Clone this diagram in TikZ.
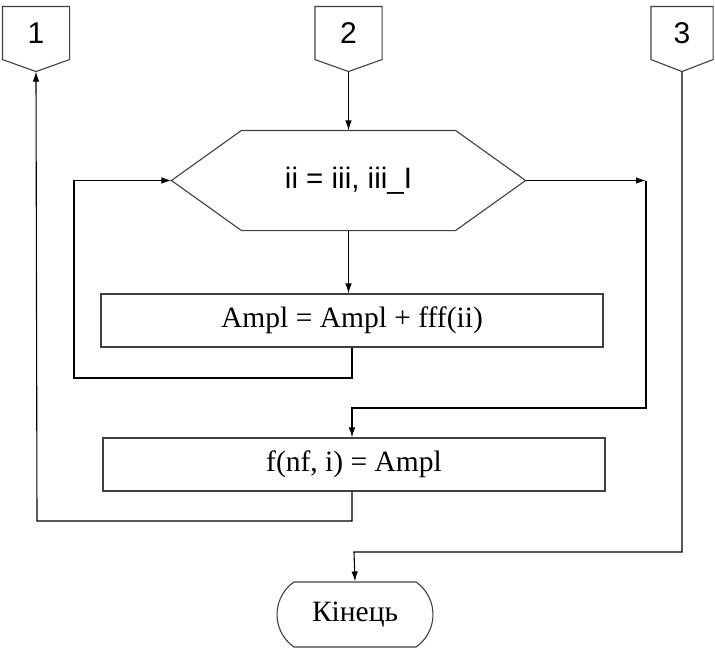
\documentclass[tikz,border=0pt]{standalone}
\usepackage{fontspec}
\setmainfont{Liberation Serif}
\newfontfamily\arialfont{Liberation Sans}
\usetikzlibrary{arrows.meta,calc,shapes.misc}

\begin{document}
\begin{tikzpicture}[x=1pt,y=-1pt,line width=1.1pt,
    every node/.style={font=\fontsize{29.5}{34}\selectfont},
    conn/.style={minimum height=52,inner sep=0pt,font=\arialfont\fontsize{30}{34}\selectfont},
    block/.style={draw=black!75,minimum width=502,minimum height=53,inner sep=0pt},
    arr/.style={-{Latex[length=10pt,width=6.5pt]}}]
    \useasboundingbox (0,0) rectangle (715,651);

    % off-page connectors 1, 2, 3
    \foreach \n/\x/\w in {1/36/66, 2/348.5/66, 3/682/61} {
        \node[conn,minimum width=\w] (c\n) at (\x,33) {\n};
        \coordinate (tip\n) at ($(c\n.south)+(0,12)$);
        \draw[black!75] (c\n.north west) -- (c\n.north east) -- (c\n.south east)
            -- (tip\n) -- (c\n.south west) -- cycle;
    }

    % loop header
    \node[minimum width=213,minimum height=99,inner sep=0pt,
          font=\arialfont\fontsize{29.5}{34}\selectfont] (cycle) at (348.5,180.5) {ii = iii, iii\_I};
    \coordinate (cycleL) at ($(cycle.west)+(-70,0)$);
    \coordinate (cycleR) at ($(cycle.east)+(70,0)$);
    \draw[black!75] (cycleL) -- (cycle.north west) -- (cycle.north east) -- (cycleR)
        -- (cycle.south east) -- (cycle.south west) -- cycle;

    % blocks
    \node[block] (acc) at (352,320.5) {Ampl = Ampl + fff(ii)};
    \node[block] (res) at (354,464.5) {f(nf, i) = Ampl};
    \node[draw=black!75,rounded rectangle,rounded rectangle arc length=110,
          minimum width=156,minimum height=65,inner sep=0pt] (term) at (355,614.5) {Кінець};

    % turning points
    \coordinate (loopA) at (74,378);
    \coordinate (exitA) at (646,180.5);
    \coordinate (exitB) at (352,408);
    \coordinate (loopB) at (37,521);
    \coordinate (endA) at (354,552);

    % connectors
    \draw[arr] (tip2) -- (cycle.north);
    \draw[arr] (cycle.south) -- (cycle.south |- acc.north);
    \draw[arr] (acc.south) |- (loopA) |- (cycleL);
    \draw[arr] (cycleR) -- (exitA);
    \draw[arr] (exitA) |- (exitB) -- (exitB |- res.north);
    \draw[arr] (exitB |- res.south) |- (loopB) -- (tip1);
    \draw[arr] (tip3) |- (endA) -- (term.north);
\end{tikzpicture}
\end{document}
